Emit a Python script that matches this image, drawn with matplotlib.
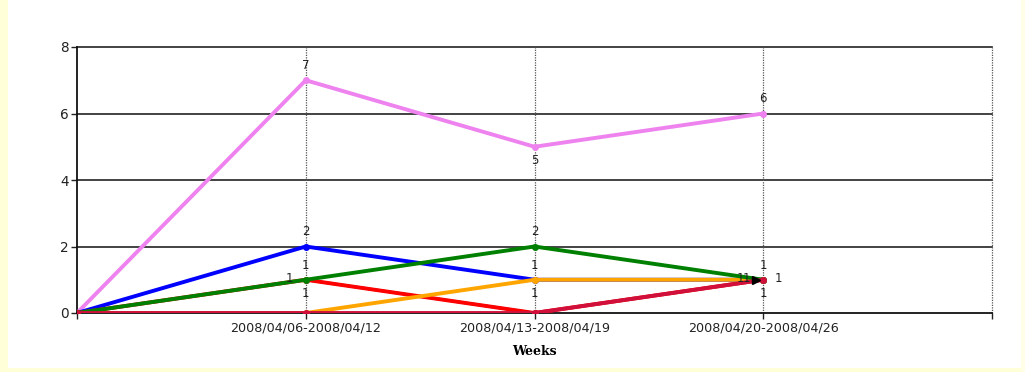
import matplotlib
matplotlib.use("Agg")
import matplotlib.pyplot as plt
from matplotlib.patches import Rectangle

categories = ["", "2008/04/06-2008/04/12", "2008/04/13-2008/04/19", "2008/04/20-2008/04/26"]
x_positions = [0, 1, 2, 3]

violet_vals = [0, 7, 5, 6]
blue_vals = [0, 2, 1, 1]
green_vals = [0, 1, 2, 1]
red_vals = [0, 1, 0, 1]
orange_vals = [0, 0, 1, 1]
black_vals = [0, 1, 0, 1]
crimson_vals = [0, 0, 0, 1]

y_ticks = [0, 2, 4, 6, 8]
x_label = "Weeks"

# (values, color, label placement per point, zorder)
series = [
    (violet_vals, "#EE82EE", [None, "top", "bottom", "top"], 3),
    (blue_vals, "#0000FF", [None, "top", "top", "top"], 4),
    (black_vals, "#000000", [None, "top", None, None], 4.5),
    (red_vals, "#FF0000", [None, "bottom", None, "bottom"], 5),
    (orange_vals, "#FFA500", [None, None, "bottom", "left2"], 6),
    (green_vals, "#008000", [None, "left", "top", "left"], 7),
    (crimson_vals, "#D0103A", [None, None, None, "right"], 8),
]

offsets = {
    "top": (0, 10.5),
    "bottom": (0, -10),
    "left": (-12, 1),
    "left2": (-16.5, 1),
    "right": (11, 1),
}

fig = plt.figure(figsize=(10.25, 3.72), dpi=100, facecolor="white")
# pale yellow frame pieces
fig.patches.append(Rectangle((0, 0), 8 / 1025, 1, transform=fig.transFigure,
                             facecolor="#FFFFD8", edgecolor="none", zorder=-10))
fig.patches.append(Rectangle((0, 0), 1, 4 / 372, transform=fig.transFigure,
                             facecolor="#FFFFD8", edgecolor="none", zorder=-10))
fig.patches.append(Rectangle((1021 / 1025, 0), 4 / 1025, 1, transform=fig.transFigure,
                             facecolor="#FFFFE8", edgecolor="none", zorder=-10))

ax = fig.add_axes([77 / 1025, 1 - 313 / 372, (992 - 77) / 1025, (313 - 47) / 372])
ax.set_facecolor("white")
ax.set_xlim(0, 4)
ax.set_ylim(0, 8)

for yv in y_ticks[1:]:
    ax.axhline(yv, color="#222222", lw=1.2, zorder=1, clip_on=False)
for xv in [1, 2, 3, 4]:
    ax.axvline(xv, color="#555555", lw=0.9, ls=(0, (1, 1)), zorder=1, clip_on=False)

for vals, color, labs, z in series:
    if color == "#000000":
        ax.plot(x_positions, vals, color=color, lw=2, zorder=z)
        ax.plot([x_positions[-1] - 0.03], [vals[-1]], marker=">", color=color,
                ms=6, zorder=9, ls="none")
    else:
        ax.plot(x_positions, vals, color=color, lw=2.8, zorder=z,
                marker="o", ms=4, mec=color, mfc=color, solid_joinstyle="miter")
    for xi, v, lp in zip(x_positions, vals, labs):
        if lp is None:
            continue
        dx, dy = offsets[lp]
        ax.annotate(str(v), (xi, v), xytext=(dx, dy), textcoords="offset points",
                    ha="center", va="center", fontsize=8.5, color="#222222",
                    zorder=10, annotation_clip=False)

ax.set_xticks([0, 1, 2, 3, 4])
ax.set_xticklabels(categories + [""], fontsize=9.2, color="#222222")
ax.set_yticks(y_ticks)
ax.set_yticklabels([str(t) for t in y_ticks], fontsize=9.8, color="#222222")
ax.tick_params(axis="both", direction="out", length=4, width=1, color="#222222", pad=2)
for s in ["top", "right"]:
    ax.spines[s].set_visible(False)
for s in ["left", "bottom"]:
    ax.spines[s].set_color("#111111")
    ax.spines[s].set_linewidth(1.3)
    ax.spines[s].set_zorder(2)

ax.set_xlabel(x_label, fontsize=9, fontweight="bold", family="DejaVu Serif",
              labelpad=8, color="black")

fig.savefig("out.png", dpi=100, facecolor=fig.get_facecolor())
